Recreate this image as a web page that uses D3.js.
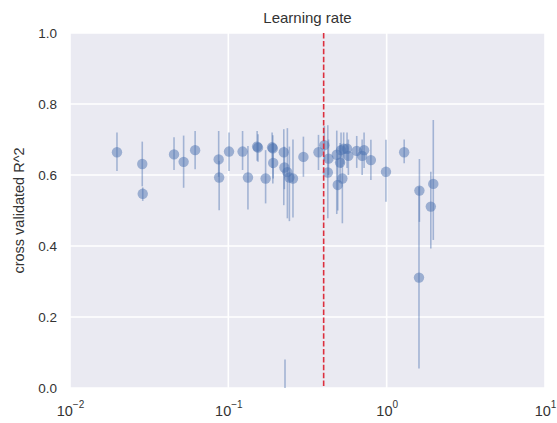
<!DOCTYPE html>
<html>
<head>
<meta charset="utf-8">
<script src="https://cdn.jsdelivr.net/npm/d3@7"></script>
<style>
  body { margin: 0; background: #fff; }
  svg { display: block; font-family: "Liberation Sans", Arial, sans-serif; }
</style>
</head>
<body>
<svg id="chart" width="557" height="423"></svg>
<script>
// Cross-validated R^2 for each sampled learning rate, with the score spread
const learningRates = [0.0198, 0.0286, 0.0288, 0.0454, 0.0522, 0.0617, 0.0869, 0.0875, 0.101, 0.123,
  0.133, 0.152, 0.154, 0.172, 0.189, 0.191, 0.192, 0.224, 0.226, 0.236,
  0.243, 0.256, 0.298, 0.371, 0.404, 0.429, 0.425, 0.484, 0.491, 0.515,
  0.535, 0.562, 0.508, 0.525, 0.573, 0.647, 0.70, 0.72, 0.795, 0.99,
  1.29, 1.61, 1.60, 1.97, 1.90, 0.228];
const r2Mean = [0.664, 0.631, 0.547, 0.658, 0.637, 0.670, 0.644, 0.593, 0.666, 0.666,
  0.593, 0.680, 0.677, 0.590, 0.678, 0.675, 0.634, 0.664, 0.621, 0.608,
  0.593, 0.590, 0.651, 0.664, 0.684, 0.646, 0.607, 0.657, 0.572, 0.670,
  0.674, 0.674, 0.635, 0.590, 0.654, 0.668, 0.654, 0.670, 0.642, 0.609,
  0.664, 0.556, 0.311, 0.575, 0.511, -0.10];
const r2Low = [0.611, 0.568, 0.527, 0.614, 0.564, 0.616, 0.595, 0.501, 0.611, 0.614,
  0.503, 0.640, 0.637, 0.520, 0.620, 0.576, 0.590, 0.515, 0.560, 0.478,
  0.470, 0.480, 0.595, 0.614, 0.640, 0.600, 0.478, 0.490, 0.500, 0.620,
  0.630, 0.620, 0.580, 0.464, 0.600, 0.620, 0.600, 0.620, 0.586, 0.525,
  0.633, 0.468, 0.055, 0.417, 0.393, -0.28];
const r2High = [0.720, 0.694, 0.565, 0.706, 0.711, 0.724, 0.724, 0.640, 0.720, 0.724,
  0.682, 0.724, 0.715, 0.670, 0.720, 0.712, 0.690, 0.729, 0.680, 0.732,
  0.680, 0.700, 0.708, 0.713, 0.738, 0.700, 0.740, 0.725, 0.660, 0.720,
  0.720, 0.720, 0.690, 0.660, 0.700, 0.710, 0.700, 0.720, 0.699, 0.699,
  0.700, 0.645, 0.567, 0.755, 0.609, 0.080];
const chosenRate = 0.4;
const xTickExponents = [-2, -1, 0, 1];
const yTickValues = [0.0, 0.2, 0.4, 0.6, 0.8, 1.0];

const svg = d3.select("#chart");
const W = 557, H = 423;
const m = { left: 70, right: 12, top: 33, bottom: 35 };
const iw = W - m.left - m.right, ih = H - m.top - m.bottom;
const textColor = "#333";

const x = d3.scaleLog().domain([0.01, 10]).range([0, iw]);
const y = d3.scaleLinear().domain([0, 1]).range([ih, 0]);

svg.append("defs").append("clipPath").attr("id", "panel")
  .append("rect").attr("width", iw).attr("height", ih);

const g = svg.append("g").attr("transform", `translate(${m.left},${m.top})`);

// panel background
g.append("rect").attr("width", iw).attr("height", ih).attr("fill", "#EAEAF2");

// grid lines
g.append("g").selectAll("line").data(xTickExponents).join("line")
  .attr("x1", d => x(Math.pow(10, d))).attr("x2", d => x(Math.pow(10, d)))
  .attr("y1", 0).attr("y2", ih)
  .attr("stroke", "#fff").attr("stroke-width", 1.6);
g.append("g").selectAll("line").data(yTickValues).join("line")
  .attr("x1", 0).attr("x2", iw)
  .attr("y1", d => y(d)).attr("y2", d => y(d))
  .attr("stroke", "#fff").attr("stroke-width", 1.6);

// y axis labels
const yAxis = d3.axisLeft(y).tickValues(yTickValues).tickFormat(d3.format(".1f")).tickSize(0).tickPadding(13);
g.append("g").call(yAxis)
  .call(s => s.select(".domain").remove())
  .call(s => s.selectAll("text").attr("fill", textColor).attr("font-size", 13.5)
    .attr("font-family", "Liberation Sans, Arial, sans-serif"));

// x axis labels as 10 with superscript exponent
const xAxis = d3.axisBottom(x).tickValues(xTickExponents.map(e => Math.pow(10, e))).tickSize(0).tickFormat("");
const xg = g.append("g").attr("transform", `translate(0,${ih})`).call(xAxis);
xg.select(".domain").remove();
xg.selectAll(".tick").each(function(d) {
  const e = Math.round(Math.log10(d));
  const t = d3.select(this).append("text")
    .attr("y", 28).attr("fill", textColor).attr("font-size", 14.5)
    .attr("text-anchor", "middle")
    .attr("font-family", "Liberation Sans, Arial, sans-serif");
  t.append("tspan").text("10");
  t.append("tspan").attr("dy", -8).attr("font-size", 10).text(e < 0 ? "\u2212" + Math.abs(e) : String(e));
});

// data layer, clipped to the panel
const plot = g.append("g").attr("clip-path", "url(#panel)");
const pts = learningRates.map((lr, i) => ({ lr, m: r2Mean[i], lo: r2Low[i], hi: r2High[i] }));

// error bars
plot.append("g").selectAll("line").data(pts).join("line")
  .attr("x1", d => x(d.lr)).attr("x2", d => x(d.lr))
  .attr("y1", d => y(d.lo)).attr("y2", d => y(d.hi))
  .attr("stroke", "#4C72B0").attr("stroke-opacity", 0.45).attr("stroke-width", 1.6);

// mean markers
plot.append("g").selectAll("circle").data(pts).join("circle")
  .attr("cx", d => x(d.lr)).attr("cy", d => y(d.m)).attr("r", 5.2)
  .attr("fill", "#4C72B0").attr("fill-opacity", 0.5);

// selected learning rate
g.append("line")
  .attr("x1", x(chosenRate)).attr("x2", x(chosenRate))
  .attr("y1", 0).attr("y2", ih)
  .attr("stroke", "#DC2F3E").attr("stroke-width", 1.6)
  .attr("stroke-dasharray", "5.5,2.4");

// title and axis label
svg.append("text").attr("x", m.left + iw / 2).attr("y", 23)
  .attr("text-anchor", "middle").attr("font-size", 15).attr("fill", textColor)
  .text("Learning rate");
svg.append("text")
  .attr("transform", `translate(24,${m.top + ih / 2}) rotate(-90)`)
  .attr("text-anchor", "middle").attr("font-size", 14.5).attr("fill", textColor)
  .text("cross validated R^2");
</script>
</body>
</html>
